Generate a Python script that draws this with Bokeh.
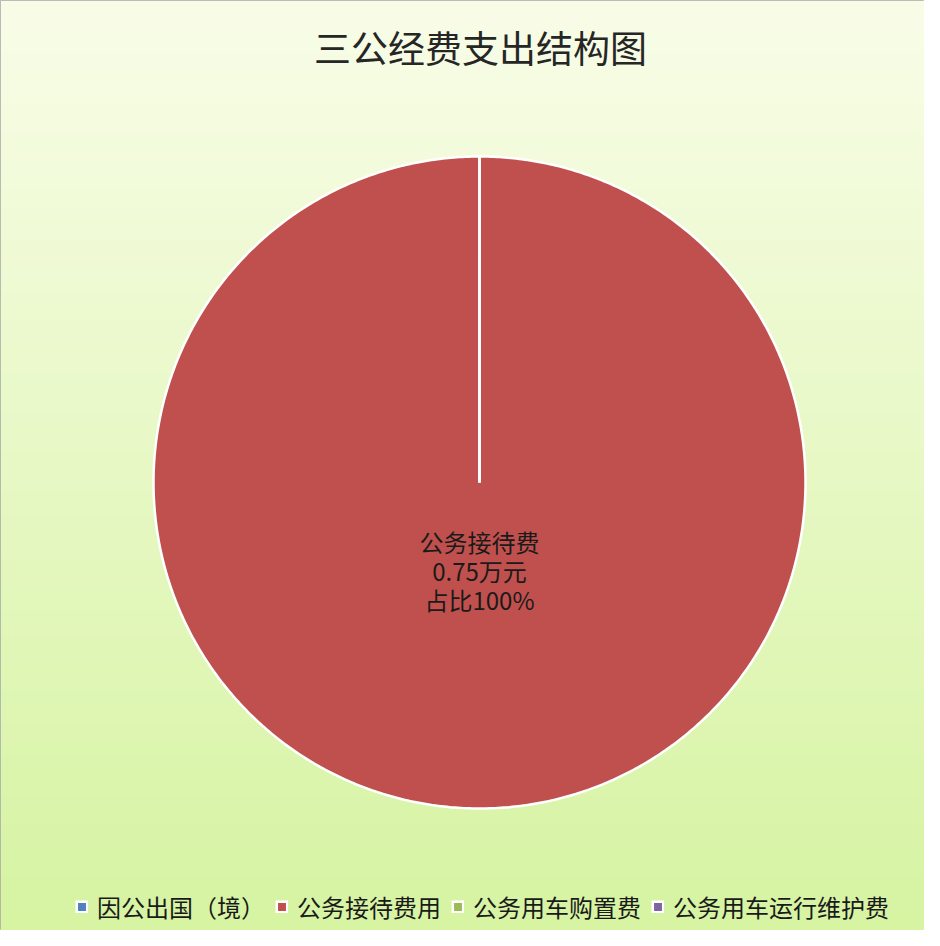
import numpy as np
from bokeh.plotting import figure
from bokeh.models import ColumnDataSource, Label, Legend, LegendItem
from bokeh.core.properties import value
from bokeh.embed import file_html
from bokeh.resources import INLINE

# ---- data ----
categories = ["因公出国（境）", "公务接待费用", "公务用车购置费", "公务用车运行维护费"]
amounts = [0.0, 0.75, 0.0, 0.0]          # 万元
colors = ["#4f81bd", "#c0504d", "#9bbb59", "#8064a2"]
label_names = ["因公出国（境）", "公务接待费", "公务用车购置费", "公务用车运行维护费"]
title_text = "三公经费支出结构图"

W, H = 924, 930
CX, CY, R = 479, H - 482, 326
FONT = "Noto Sans CJK SC"

total = sum(amounts)
fracs = [a / total for a in amounts]
cum = np.cumsum([0] + fracs)
start = [np.pi / 2 - 2 * np.pi * cum[i] for i in range(len(amounts))]
end = [np.pi / 2 - 2 * np.pi * cum[i + 1] for i in range(len(amounts))]

# pie slices as polygons built from the data angles
xs, ys = [], []
for i in range(len(amounts)):
    n = max(2, int(abs(end[i] - start[i]) / (2 * np.pi) * 720) + 2)
    a = np.linspace(start[i], end[i], n)
    xs.append([CX] + list(CX + R * np.cos(a)))
    ys.append([CY] + list(CY + R * np.sin(a)))
src = ColumnDataSource(dict(xs=xs, ys=ys, color=colors, name=categories))

p = figure(width=W, height=H, x_range=(0, W), y_range=(0, H),
           output_backend="svg", toolbar_location=None, min_border=0)
p.axis.visible = False
p.grid.visible = False
p.outline_line_color = "#a6a6a6"
p.outline_line_width = 1
p.background_fill_color = "#eefbd0"
p.border_fill_color = "#eefbd0"

# background gradient (decoration)
N = 256
top = np.array([0xf9, 0xfd, 0xe8], dtype=float)
bot = np.array([0xd6, 0xf4, 0xa2], dtype=float)
t = np.linspace(0, 1, N)[:, None]
rgb = bot * (1 - t) + top * t   # row 0 = bottom
img = np.zeros((N, 1), dtype=np.uint32)
view = img.view(dtype=np.uint8).reshape((N, 1, 4))
view[:, 0, 0] = rgb[:, 0].astype(np.uint8)
view[:, 0, 1] = rgb[:, 1].astype(np.uint8)
view[:, 0, 2] = rgb[:, 2].astype(np.uint8)
view[:, 0, 3] = 255
p.image_rgba(image=[img], x=0, y=0, dw=W, dh=H)

pr = p.patches(xs="xs", ys="ys", fill_color="color", line_color="white",
               line_width=2.5, line_join="miter", source=src)

# data label for non-zero slices
lx, ly, lt = [], [], []
for i, a in enumerate(amounts):
    if a > 0:
        mid = (start[i] + end[i]) / 2
        lx.append(CX + 0.27 * R * np.cos(mid))
        ly.append(CY + 0.27 * R * np.sin(mid))
        lt.append(f"{label_names[i]}\n{a:g}万元\n占比{round(fracs[i]*100)}%")
p.text(x=lx, y=ly, text=lt, text_align="center", text_baseline="middle",
       text_font=value(FONT), text_font_size="24px", text_color="#1a1a1a",
       text_line_height=0.83)

p.add_layout(Label(x=480, y=H - 46, x_units="screen", y_units="screen",
                   text=title_text, text_align="center", text_baseline="middle",
                   text_font=FONT, text_font_size="37px", text_color="#262626"))

items = [LegendItem(label=c, renderers=[pr], index=i) for i, c in enumerate(categories)]
legend = Legend(items=items, orientation="horizontal", location=(75, 6),
                glyph_width=13, glyph_height=13, label_standoff=9, spacing=10,
                padding=0, margin=0, border_line_color=None,
                background_fill_alpha=0, label_text_font=FONT,
                label_text_font_size="24px", label_text_color="#1a1a1a")
p.add_layout(legend, "center")

open("out.html", "w").write(file_html(p, INLINE))
